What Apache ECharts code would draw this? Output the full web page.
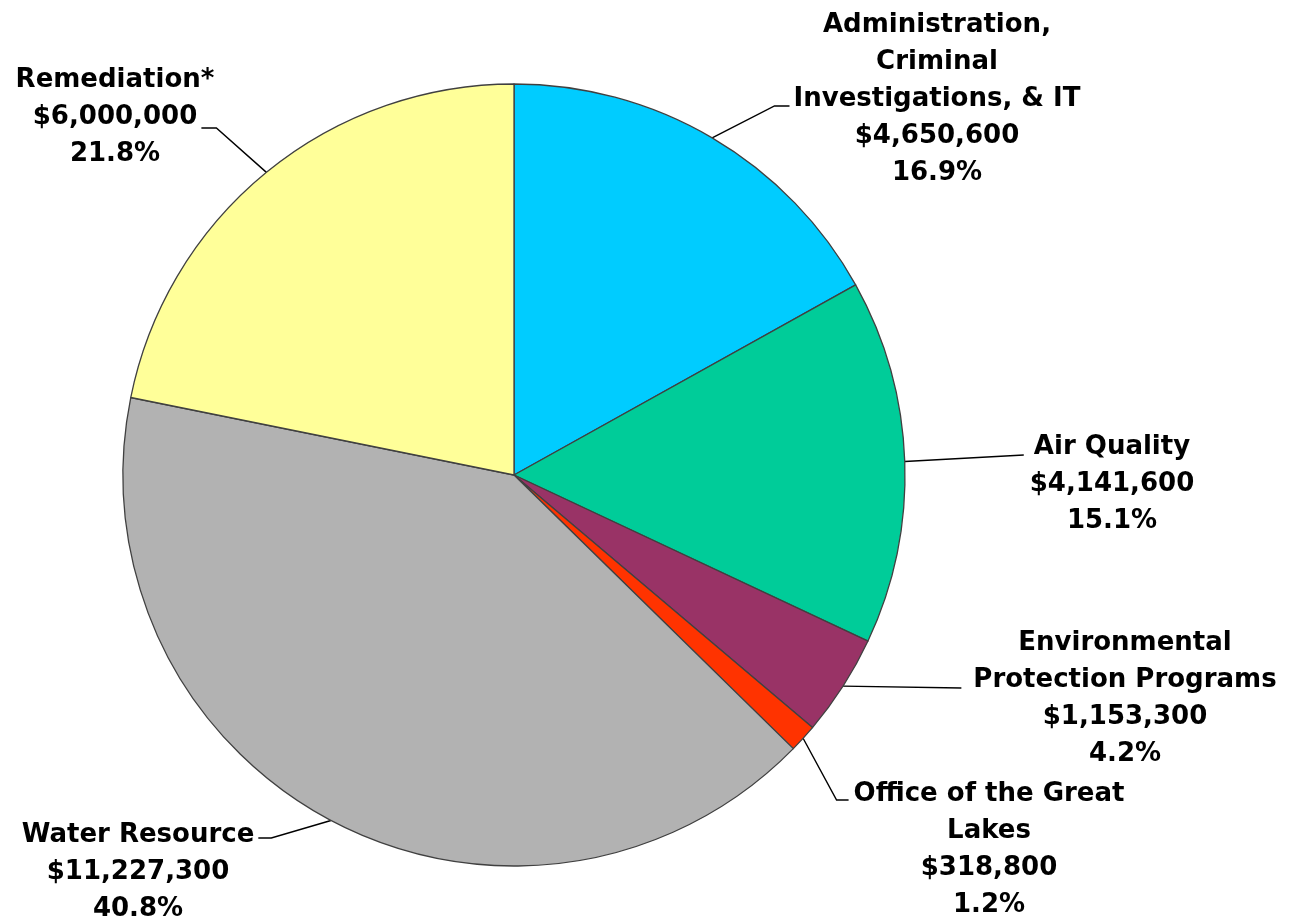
<!DOCTYPE html>
<html>
<head>
<meta charset="utf-8">
<script src="https://cdn.jsdelivr.net/npm/echarts@6/dist/echarts.min.js"></script>
<style>
  html, body { margin: 0; padding: 0; background: #fff; }
  #chart { width: 1294px; height: 921px; }
</style>
</head>
<body>
<div id="chart"></div>
<script>
// budget categories, clockwise from 12 o'clock
var categories = [
  "Administration,\nCriminal\nInvestigations, & IT",
  "Air Quality",
  "Environmental\nProtection Programs",
  "Office of the Great\nLakes",
  "Water Resource",
  "Remediation*"
];
var amounts = [4650600, 4141600, 1153300, 318800, 11227300, 6000000];
var sliceColors = ["#00CCFF", "#00CC99", "#993366", "#FF3300", "#B2B2B2", "#FFFF99"];

// where each label block sits (center of the text)
var labelSpots = [
  { x: 937, y: 99 },
  { x: 1112, y: 484 },
  { x: 1125, y: 699 },
  { x: 989, y: 850 },
  { x: 138, y: 872 },
  { x: 115, y: 117 }
];
// leader line end relative to the label: side -1 = left of text, 1 = right
var leaders = [
  { side: -1, dy: 7, gap: 4, seg: 15 },
  { side: -1, dy: -29, gap: 6, seg: 0 },
  { side: -1, dy: -11, gap: 12, seg: 0 },
  { side: -1, dy: -50, gap: 5, seg: 12 },
  { side: 1, dy: -34, gap: 4, seg: 13 },
  { side: 1, dy: 11, gap: -13, seg: 15 }
];

var pieData = categories.map(function (name, i) {
  return { name: name, value: amounts[i], itemStyle: { color: sliceColors[i] } };
});

var chart = echarts.init(document.getElementById("chart"));
chart.setOption({
  animation: false,
  series: [
    {
      type: "pie",
      center: [514, 475],
      radius: 391,
      startAngle: 90,
      clockwise: true,
      percentPrecision: 1,
      avoidLabelOverlap: false,
      emphasis: { disabled: true },
      itemStyle: { borderColor: "#404040", borderWidth: 1.3 },
      label: {
        show: true,
        color: "#000",
        fontFamily: "DejaVu Sans, Arial, sans-serif",
        fontWeight: "bold",
        fontSize: 26,
        lineHeight: 37,
        formatter: function (p) {
          return p.name + "\n$" + p.value.toLocaleString("en-US") + "\n" + p.percent.toFixed(1) + "%";
        }
      },
      labelLine: {
        show: true,
        length: 20,
        length2: 12,
        lineStyle: { color: "#000", width: 1.4 }
      },
      labelLayout: function (p) {
        var s = labelSpots[p.dataIndex];
        var l = leaders[p.dataIndex];
        var w = p.labelRect.width;
        var endX = s.x + l.side * (w / 2 + l.gap);
        var endY = s.y + l.dy;
        var elbowX = endX + l.side * l.seg;
        var start = p.labelLinePoints ? p.labelLinePoints[0] : [elbowX, endY];
        return {
          x: s.x,
          y: s.y,
          align: "center",
          verticalAlign: "middle",
          labelLinePoints: [start, [elbowX, endY], [endX, endY]]
        };
      },
      data: pieData
    }
  ]
});
</script>
</body>
</html>
